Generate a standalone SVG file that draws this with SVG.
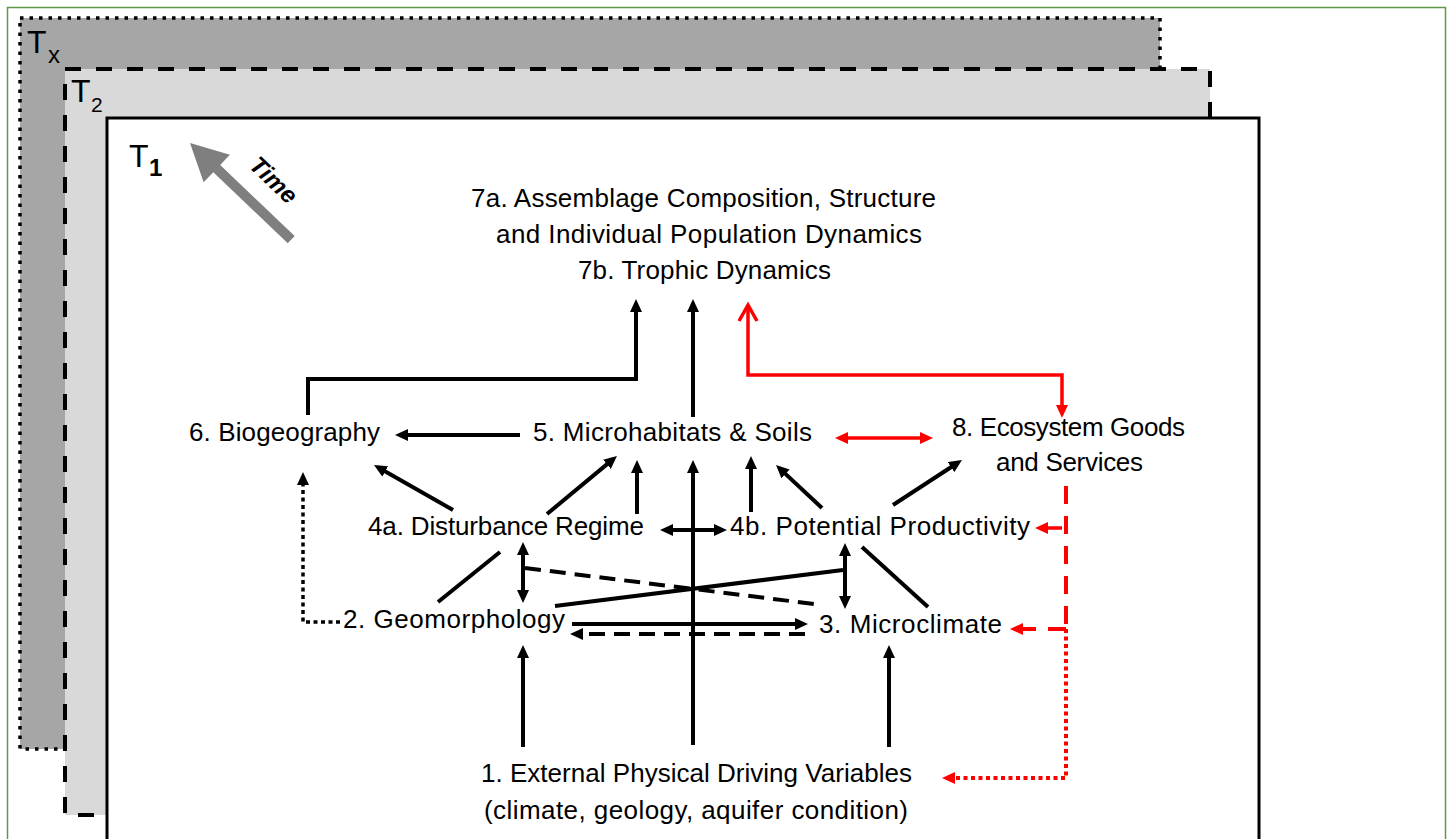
<svg xmlns="http://www.w3.org/2000/svg" width="1450" height="839" viewBox="0 0 1450 839">
<style>
  .t { font-family: "Liberation Sans", Arial, sans-serif; font-size: 26px; fill: #000; }
  .tl { font-family: "Liberation Sans", Arial, sans-serif; fill: #000; }
  .k { stroke: #000; stroke-width: 4; fill: none; }
  .r { stroke: #ff0000; stroke-width: 3.5; fill: none; }
  .dash { stroke-dasharray: 16 9; }
  .dot { stroke-dasharray: 4 3.5; stroke-width: 3.5; }
  .rdash { stroke-dasharray: 18 12; stroke-width: 4; }
  .rdot { stroke-dasharray: 4 3.5; stroke-width: 4; }
</style>
<defs>
  <marker id="ab" markerUnits="userSpaceOnUse" markerWidth="13" markerHeight="12" refX="8.5" refY="6" orient="auto-start-reverse">
    <path d="M0,0 L13,6 L0,12 z" fill="#000"/>
  </marker>
  <marker id="ar" markerUnits="userSpaceOnUse" markerWidth="13" markerHeight="12" refX="8.5" refY="6" orient="auto-start-reverse">
    <path d="M0,0 L13,6 L0,12 z" fill="#ff0000"/>
  </marker>
</defs>
<rect x="0" y="0" width="1450" height="839" fill="#fff"/>
<rect x="7.5" y="7.5" width="1438" height="840" fill="none" stroke="#5b9b45" stroke-width="1.5"/>

<g id="frames">
  <rect x="20" y="18" width="1140" height="731" fill="#a6a6a6" stroke="#000" stroke-width="3.5" stroke-dasharray="3.5 6"/>
  <rect x="65" y="69" width="1145" height="746" fill="#d9d9d9" stroke="#000" stroke-width="4" stroke-dasharray="16 15"/>
  <rect x="107" y="118" width="1152" height="760" fill="#fff" stroke="#000" stroke-width="3"/>
  <text class="tl" x="27" y="53" font-size="32">T</text>
  <text class="tl" x="48" y="63" font-size="24">x</text>
  <text class="tl" x="71" y="102" font-size="32">T</text>
  <text class="tl" x="91" y="112" font-size="21">2</text>
  <text class="tl" x="129" y="167" font-size="32">T</text>
  <text class="tl" x="149" y="176" font-size="24" font-weight="bold">1</text>
</g>

<g id="time-arrow">
  <polygon points="0,0 37,-19 37,-5 140,-5 140,5 37,5 37,19" fill="#7f7f7f" transform="translate(190,143) rotate(43.7)"/>
  <text class="tl" font-size="24" font-weight="bold" font-style="italic" text-anchor="middle" transform="translate(268,186) rotate(43.7)">Time</text>
</g>

<g id="connectors">
  <!-- black -->
  <path class="k" d="M520,435 H399.5" marker-end="url(#ab)"/>
  <path class="k" d="M308,415 V379 H636 V303.5" marker-end="url(#ab)"/>
  <path class="k" d="M693,417 V303.5" marker-end="url(#ab)"/>
  <path class="k" d="M693,745 V464.5" marker-end="url(#ab)"/>
  <path class="k" d="M453,510 L377.9,467.2" marker-end="url(#ab)"/>
  <path class="k" d="M547,514 L613.5,458.9" marker-end="url(#ab)"/>
  <path class="k" d="M637,514 V464.5" marker-end="url(#ab)"/>
  <path class="k" d="M751,512 V460.5" marker-end="url(#ab)"/>
  <path class="k" d="M822,508 L779.3,468.1" marker-end="url(#ab)"/>
  <path class="k" d="M893,505 L958.2,462.5" marker-end="url(#ab)"/>
  <path class="k" d="M664.5,530 H722.5" marker-start="url(#ab)" marker-end="url(#ab)"/>
  <path class="k" d="M523,546.5 V598.5" marker-start="url(#ab)" marker-end="url(#ab)"/>
  <path class="k" d="M500,552 L438,602"/>
  <path class="k dash" d="M525,568 L822,605"/>
  <path class="k" d="M555,606 L843,570"/>
  <path class="k" d="M845,547.5 V604.5" marker-start="url(#ab)" marker-end="url(#ab)"/>
  <path class="k" d="M862,547 L928,607"/>
  <path class="k" d="M572,624 H803.5" marker-end="url(#ab)"/>
  <path class="k dash" d="M805,634 H574.5" marker-end="url(#ab)"/>
  <path class="k" d="M523,747 V649.5" marker-end="url(#ab)"/>
  <path class="k" d="M889,747 V649.5" marker-end="url(#ab)"/>
  <path class="k dot" d="M340,622 H303 V476.5" marker-end="url(#ab)"/>
  <!-- red -->
  <path class="r" d="M748,305 V375 H1062 V413.5" marker-end="url(#ar)"/>
  <polyline class="r" points="739,321 748,305 757,321"/>
  <path class="r" d="M839.5,438 H928.5" marker-start="url(#ar)" marker-end="url(#ar)"/>
  <path class="r rdash" d="M1066,486 V629"/>
  <path class="r" d="M1062,528 H1039.5" marker-end="url(#ar)"/>
  <path class="r rdash" d="M1066,629 H1014.5" marker-end="url(#ar)"/>
  <path class="r rdot" d="M1066,629 V778 H946.5" marker-end="url(#ar)"/>
</g>

<g id="node-7">
  <text class="t" x="471" y="207" textLength="465">7a. Assemblage Composition, Structure</text>
  <text class="t" x="496" y="243" textLength="426">and Individual Population Dynamics</text>
  <text class="t" x="578" y="279" textLength="253">7b. Trophic Dynamics</text>
</g>
<g id="node-6"><text class="t" x="189" y="441" textLength="191">6. Biogeography</text></g>
<g id="node-5"><text class="t" x="533" y="441" textLength="279">5. Microhabitats &amp; Soils</text></g>
<g id="node-8">
  <text class="t" x="952" y="436" textLength="233">8. Ecosystem Goods</text>
  <text class="t" x="996" y="471" textLength="147">and Services</text>
</g>
<g id="node-4a"><text class="t" x="368" y="535" textLength="276">4a. Disturbance Regime</text></g>
<g id="node-4b"><text class="t" x="730" y="535" textLength="300">4b. Potential Productivity</text></g>
<g id="node-2"><text class="t" x="343" y="628" textLength="222">2. Geomorphology</text></g>
<g id="node-3"><text class="t" x="819" y="633" textLength="183">3. Microclimate</text></g>
<g id="node-1">
  <text class="t" x="481" y="782" textLength="431">1. External Physical Driving Variables</text>
  <text class="t" x="484" y="819" textLength="424">(climate, geology, aquifer condition)</text>
</g>
</svg>
